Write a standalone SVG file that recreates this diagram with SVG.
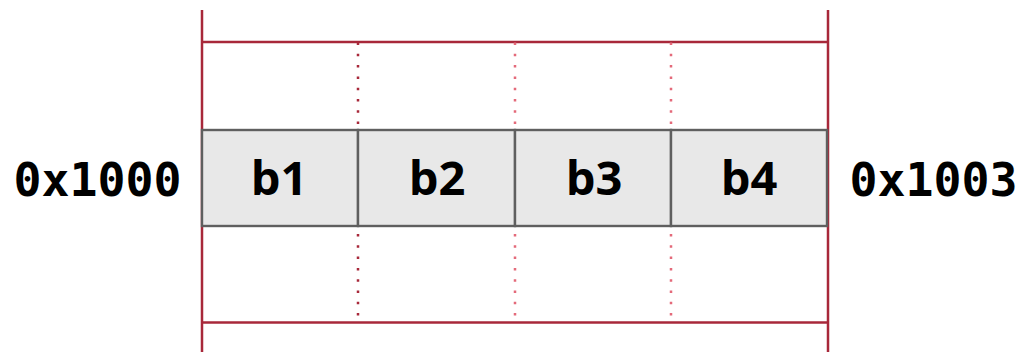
<svg xmlns="http://www.w3.org/2000/svg" width="1020" height="352" viewBox="0 0 1020 352">
<style>
.frame{stroke:#a8283a;stroke-width:2.5;fill:none}
.dotd{stroke:#a8283a;stroke-width:2.5;stroke-dasharray:2.5 8.8;fill:none}
.dotp{stroke:#e46a7a;stroke-width:2.5;stroke-dasharray:2.5 8.8;fill:none}
.cell{fill:#e8e8e8;stroke:#5f5f5f;stroke-width:2.4}
.lbl{font-family:"Open Sans","Liberation Sans",sans-serif;font-weight:bold;font-size:47px;fill:#000;text-anchor:middle}
.addr{font-family:"DejaVu Sans Mono","Liberation Mono",monospace;font-weight:bold;font-size:46.5px;fill:#000;text-anchor:middle}
</style>
<rect width="1020" height="352" fill="#fff"/>
<g id="connectors">
<line class="frame" x1="202" y1="10" x2="202" y2="352"/>
<line class="frame" x1="828" y1="10" x2="828" y2="352"/>
<line class="frame" x1="202" y1="42" x2="828" y2="42"/>
<line class="frame" x1="202" y1="322.5" x2="828" y2="322.5"/>
<line class="dotd" x1="358" y1="42.5" x2="358" y2="126"/>
<line class="dotp" x1="515" y1="42.5" x2="515" y2="126"/>
<line class="dotp" x1="671" y1="42.5" x2="671" y2="126"/>
<line class="dotd" x1="358" y1="234" x2="358" y2="318"/>
<line class="dotp" x1="515" y1="234" x2="515" y2="318"/>
<line class="dotp" x1="671" y1="234" x2="671" y2="318"/>
</g>
<g id="b1"><rect class="cell" x="202" y="130" width="156" height="96"/><text class="lbl" x="279" y="195">b1</text></g>
<g id="b2"><rect class="cell" x="358" y="130" width="157" height="96"/><text class="lbl" x="437" y="195">b2</text></g>
<g id="b3"><rect class="cell" x="515" y="130" width="156" height="96"/><text class="lbl" x="594" y="195">b3</text></g>
<g id="b4"><rect class="cell" x="671" y="130" width="156" height="96"/><text class="lbl" x="749" y="195">b4</text></g>
<g id="addr-start"><text class="addr" x="97.5" y="196">0x1000</text></g>
<g id="addr-end"><text class="addr" x="933.5" y="196">0x1003</text></g>
</svg>
